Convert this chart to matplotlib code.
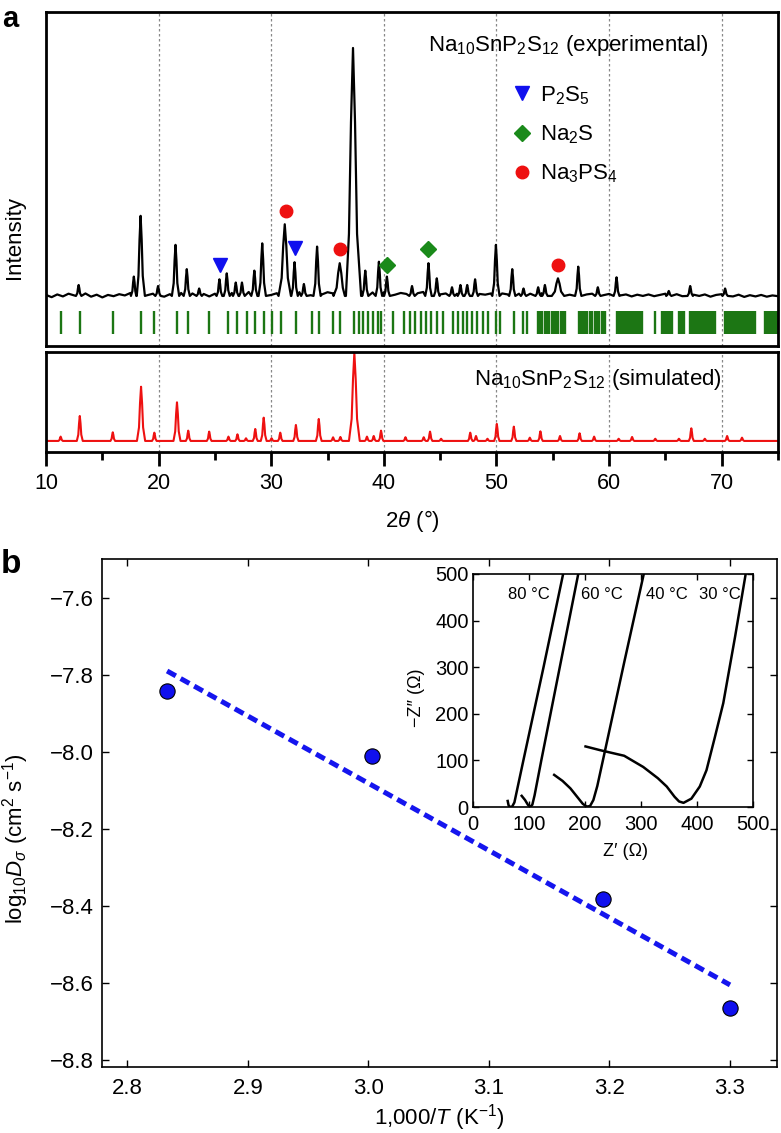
import numpy as np
import matplotlib.pyplot as plt
from matplotlib.lines import Line2D

plt.rcParams['font.family'] = ['Liberation Sans', 'DejaVu Sans']
plt.rcParams['mathtext.fontset'] = 'custom'
plt.rcParams['mathtext.rm'] = 'Liberation Sans'
plt.rcParams['mathtext.it'] = 'Liberation Sans:italic'
plt.rcParams['mathtext.bf'] = 'Liberation Sans:bold'

# ---- panel a: XRD ----
# experimental peaks (2theta, intensity; baseline = 0, strongest = 100)
exp_pos = [12.9, 17.8, 18.4, 19.95, 21.5, 22.5, 23.6, 25.4, 26.05, 26.85, 27.4, 28.5,
           29.2, 31.2, 32.07, 32.9, 34.07, 36.08, 37.26, 38.35, 39.56, 40.27, 42.5,
           43.96, 44.7, 46.05, 46.8, 47.4, 48.1, 49.95, 51.4, 52.4, 53.7, 54.3, 55.46,
           57.26, 59.0, 60.66, 65.3, 67.2, 70.3]
exp_int = [4.4, 7.8, 32.3, 4.0, 20.6, 10.8, 3.0, 6.7, 9.1, 5.4, 5.4, 10.2,
           21.2, 28.9, 13.6, 4.8, 19.9, 13.2, 100, 10.2, 13.8, 7.8, 4.0,
           13.2, 7.1, 3.5, 4.4, 4.4, 6.7, 20.6, 10.8, 3.0, 3.5, 4.4, 7.1,
           11.8, 3.5, 7.5, 2.0, 4.0, 3.0]
broad_peaks = [31.2, 36.08, 55.46]

# experimental background, every 0.5 deg from 10 to 75
bg_x = np.linspace(10, 75, 131)
bg_y = [0.4, -0.5, 0.6, -0.2, 0.9, 0.2, 0.5, 1.0, -0.3, 0.5, -0.6, 0.4, -0.1, 0.7, 0.2,
        1.2, 1.6, 1.1, 0.3, 0.9, 0.6, -0.3, 0.7, 0.4, 1.2, 0.5, 1.0, 0.2, 0.8, -0.2,
        0.9, 1.4, 1.8, 1.2, 1.5, 1.0, 1.6, 1.4, 1.9, 1.2, 0.4, 1.1, 2.0, 1.6, 1.2,
        1.5, 1.0, 0.3, 0.9, 0.6, 1.5, 1.0, 2.0, 1.3, 1.8, 2.2, 1.7, 2.3, 1.4, 1.8,
        1.5, 0.9, 0.5, 1.2, 0.8, 0.6, 1.1, 1.6, 2.0, 1.5, 0.6, 1.0, 1.3, 0.9, 1.6,
        1.1, 1.4, 0.8, 0.5, 1.0, 1.6, 1.0, 0.6, 1.2, 0.9, 0.4, 0.9, 0.3, 1.1, 0.7,
        1.5, 2.0, 1.2, 0.5, 1.1, 1.4, 0.6, 0.9, 1.0, 0.3, 0.8, 1.0, 0.2, 0.6, -0.2,
        0.5, 0.0, 0.6, -0.1, 0.4, 0.9, 0.2, 0.7, -0.1, 0.8, 0.5, 0.0, 0.6, -0.3, 0.4,
        0.7, 0.1, -0.2, 0.5, -0.4, 0.3, -0.2, 0.4, -0.3, 0.2, -0.1]

# impurity phase markers
p2s5_x, p2s5_y = [25.46, 32.1], [12.5, 19.5]
na2s_x, na2s_y = [40.3, 43.96], [12.5, 19.0]
na3ps4_x, na3ps4_y = [31.27, 36.1, 55.46], [34.3, 19.0, 12.5]

# Bragg reflection positions
bragg = [11.30, 13.01, 15.96, 18.44, 19.56, 21.63, 22.65, 24.51, 26.19, 26.99, 27.82,
         28.58, 29.33, 30.03, 30.83, 32.19, 33.58, 34.25, 35.49, 36.14, 37.32, 37.76,
         38.14, 38.58, 39.03, 39.47, 39.77, 40.80, 41.83, 42.34, 42.80, 43.31, 43.75,
         44.19, 44.69, 45.22, 46.11, 46.55, 46.99, 47.35, 47.82, 48.27, 48.76, 49.27,
         49.95, 50.30, 51.57, 52.36, 52.74, 53.72, 53.90, 54.07, 54.29, 54.51, 54.70,
         54.90, 55.08, 55.26, 55.48, 55.70, 55.89, 56.08, 57.32, 57.50, 57.67, 57.86,
         58.05, 58.28, 58.50, 58.72, 58.94, 59.13, 59.33, 59.50, 59.68,
         60.71, 60.85, 61.00, 61.15, 61.30, 61.45, 61.59, 61.74, 61.89, 62.04, 62.19,
         62.33, 62.48, 62.63, 62.78, 62.92, 64.11, 64.69, 64.84, 64.99, 65.14, 65.29,
         65.44, 65.58, 66.17, 66.32, 66.47, 66.62, 67.20, 67.35, 67.50, 67.64, 67.79,
         67.94, 68.08, 68.23, 68.38, 68.52, 68.67, 68.82, 68.97, 69.12, 69.26, 69.41,
         70.30, 70.45, 70.60, 70.74, 70.89, 71.04, 71.18, 71.33, 71.48, 71.62, 71.77,
         71.92, 72.06, 72.21, 72.36, 72.51, 72.66, 72.80, 72.95, 73.84, 73.99, 74.14,
         74.28, 74.43, 74.58, 74.73, 74.88]

# simulated peaks
sim_pos = [11.3, 13.0, 15.93, 18.44, 19.62, 21.63, 22.63, 24.49, 26.2, 27.0, 27.76,
           28.58, 29.33, 30.03, 30.8, 32.19, 34.22, 35.49, 36.14, 37.38, 38.5, 39.1,
           39.75, 41.92, 43.54, 44.1, 45.08, 47.67, 48.18, 49.2, 50.03, 51.54, 52.96,
           53.9, 55.64, 57.38, 58.67, 60.85, 62.04, 64.1, 66.2, 67.3, 68.5, 70.48, 71.8]
sim_int = [4.9, 28.3, 9.8, 61.5, 9.4, 43.8, 11.7, 10.6, 4.9, 7.5, 3.0,
           13.6, 26.4, 3.0, 9.4, 18.1, 24.9, 4.1, 4.5, 100, 4.9, 5.6,
           11.7, 4.2, 4.2, 10.6, 2.5, 9.4, 5.6, 2.5, 19.3, 16.2, 3.7,
           10.9, 5.6, 8.7, 4.9, 2.5, 4.5, 2.5, 2.5, 14.3, 2.5, 5.6, 3.7]

# ---- panel b ----
inv_T = [2.833, 3.003, 3.195, 3.300]
log_D = [-7.842, -8.010, -8.382, -8.665]
fit_x = [2.833, 3.300]
fit_y = [-7.79, -8.605]

# inset impedance spectra
z80_re = [62, 63.5, 66, 70, 74, 90, 126, 161]
z80_im = [13, 4, 0, 1, 10, 100, 300, 500]
z60_re = [87, 93, 98, 102, 106, 110, 122, 155, 188]
z60_im = [24, 15, 5, 0, 5, 25, 100, 300, 500]
z40_re = [145, 160, 174, 186, 196, 203, 209, 215, 222, 236, 270, 305]
z40_im = [69, 56, 40, 22, 7, 1, 2, 15, 45, 122, 310, 500]
z30_re = [201, 227, 270, 304, 330, 346, 360, 368, 376, 390, 405, 417, 432, 447, 468, 487]
z30_im = [130, 122, 110, 86, 62, 44, 22, 12, 9, 18, 44, 79, 150, 223, 365, 500]

peak_off = [-1, -0.5, -0.25, 0, 0.25, 0.5, 1]
peak_frac = [0, 0.25, 0.7, 1, 0.7, 0.25, 0]


def pattern(base_x, base_y, pos, hgt, widths):
    pts = [(x, y) for x, y in zip(base_x, base_y)
           if all(abs(x - p) > w for p, w in zip(pos, widths))]
    for p, h, w in zip(pos, hgt, widths):
        for o, f in zip(peak_off, peak_frac):
            pts.append((p + o * w, f * h))
    pts.sort()
    return np.array(pts).T


fig = plt.figure(figsize=(7.81, 11.33), dpi=100)

# experimental
ax1 = fig.add_axes([0.0589, 0.6946, 0.9373, 0.2948])
exp_w = [0.55 if p in broad_peaks else 0.22 + 0.005 * h for p, h in zip(exp_pos, exp_int)]
ex, ey = pattern(bg_x, bg_y, exp_pos, exp_int, exp_w)
ax1.plot(ex, ey, color='black', lw=1.6)
ax1.vlines(bragg, -15.3, -6.0, color='#1c7614', lw=1.7)
ax1.plot(p2s5_x, p2s5_y, 'v', color='#1010ee', ms=10, ls='none')
ax1.plot(na2s_x, na2s_y, 'D', color='#1a8a1a', ms=8, ls='none')
ax1.plot(na3ps4_x, na3ps4_y, 'o', color='#ee1010', ms=9, ls='none')
ax1.set_xlim(10, 75)
ax1.set_ylim(-20.2, 114.5)
ax1.set_xticks([])
ax1.set_yticks([])
for sp in ax1.spines.values():
    sp.set_linewidth(2)
for g in range(20, 75, 10):
    ax1.axvline(g, color='#888888', lw=0.9, ls=(0, (2, 2)), zorder=0)
ax1.set_ylabel('Intensity', fontsize=16)
ax1.yaxis.set_label_coords(-0.029, 0.326)
ax1.text(0.713, 0.901, 'Na$_{10}$SnP$_2$S$_{12}$ (experimental)', transform=ax1.transAxes,
         ha='center', va='center', fontsize=16)
handles = [Line2D([], [], marker='v', color='#1010ee', ms=10, ls='none'),
           Line2D([], [], marker='D', color='#1a8a1a', ms=8, ls='none'),
           Line2D([], [], marker='o', color='#ee1010', ms=9, ls='none')]
ax1.legend(handles, ['P$_2$S$_5$', 'Na$_2$S', 'Na$_3$PS$_4$'], loc='upper left',
           bbox_to_anchor=(0.635, 0.784), frameon=False, fontsize=16, handlelength=1.0,
           handletextpad=0.3, borderpad=0, borderaxespad=0, labelspacing=0.75, numpoints=1)
fig.text(10 / 781, 1 - 27 / 1133, 'a', fontsize=21, fontweight='bold',
         ha='center', va='baseline')

# simulated
ax2 = fig.add_axes([0.0589, 0.6011, 0.9373, 0.0883])
sim_w = [0.18 + 0.003 * h for h in sim_int]
sx, sy = pattern([10, 75], [0, 0], sim_pos, sim_int, sim_w)
ax2.plot(sx, sy, color='#ee1111', lw=1.5)
ax2.set_xlim(10, 75)
ax2.set_ylim(-12.5, 101)
ax2.set_yticks([])
ax2.set_xticks(range(10, 75, 10))
ax2.set_xticks(range(15, 80, 10), minor=True)
ax2.tick_params(axis='x', which='major', direction='out', length=10, width=2,
                labelsize=15.5, pad=5)
ax2.tick_params(axis='x', which='minor', direction='out', length=6, width=2)
for sp in ax2.spines.values():
    sp.set_linewidth(2)
for g in range(20, 75, 10):
    ax2.axvline(g, color='#888888', lw=0.9, ls=(0, (2, 2)), zorder=0)
ax2.text(0.754, 0.72, 'Na$_{10}$SnP$_2$S$_{12}$ (simulated)', transform=ax2.transAxes,
         ha='center', va='center', fontsize=16)
ax2.set_xlabel(r'2$\theta$ (°)', fontsize=16)
ax2.xaxis.set_label_coords(0.5, -0.56)

# panel b
ax3 = fig.add_axes([0.1306, 0.0583, 0.8643, 0.4484])
ax3.plot(fit_x, fit_y, color='#1515ee', lw=3.6, ls=(0, (2, 1.1)))
ax3.plot(inv_T, log_D, 'o', color='#1010ee', mec='black', mew=0.8, ms=11, ls='none')
ax3.set_xlim(2.779, 3.339)
ax3.set_ylim(-8.818, -7.499)
ax3.set_xticks([2.8, 2.9, 3.0, 3.1, 3.2, 3.3])
ax3.set_yticks([-8.8, -8.6, -8.4, -8.2, -8.0, -7.8, -7.6])
ax3.xaxis.set_major_formatter('{x:.1f}')
ax3.yaxis.set_major_formatter('{x:.1f}')
ax3.tick_params(direction='in', length=5, width=1, top=True, right=True,
                labelsize=16)
ax3.tick_params(axis='x', pad=8)
ax3.tick_params(axis='y', pad=6)
for sp in ax3.spines.values():
    sp.set_linewidth(1.2)
ax3.set_xlabel(r'1,000/$\it{T}$ (K$^{-1}$)', fontsize=16)
ax3.xaxis.set_label_coords(0.5, -0.07)
ax3.set_ylabel(r'log$_{10}$$\it{D}_{\sigma}$ (cm$^2$ s$^{-1}$)', fontsize=16)
ax3.yaxis.set_label_coords(-0.105, 0.45)
fig.text(11 / 781, 1 - 573 / 1133, 'b', fontsize=24, fontweight='bold',
         ha='center', va='baseline')

# inset
ax4 = fig.add_axes([0.6056, 0.2877, 0.3585, 0.2057])
for zr, zi in [(z80_re, z80_im), (z60_re, z60_im), (z40_re, z40_im), (z30_re, z30_im)]:
    ax4.plot(zr, zi, color='black', lw=1.8)
ax4.set_xlim(0, 500)
ax4.set_ylim(0, 500)
ax4.set_xticks(range(0, 501, 100))
ax4.set_yticks(range(0, 501, 100))
ax4.tick_params(direction='in', length=4, width=1, top=True, right=True, labelsize=14.5)
ax4.tick_params(axis='x', pad=6)
ax4.tick_params(axis='y', pad=3)
for sp in ax4.spines.values():
    sp.set_linewidth(1.2)
for lbl, xpos in [('80 °C', 100), ('60 °C', 230), ('40 °C', 346), ('30 °C', 441)]:
    ax4.text(xpos, 455, lbl, ha='center', va='center', fontsize=12)
ax4.set_xlabel('Z\u2032 (\u03a9)', fontsize=13)
ax4.xaxis.set_label_coords(0.543, -0.155)
ax4.set_ylabel('\u2212Z\u2033 (\u03a9)', fontsize=13)
ax4.yaxis.set_label_coords(-0.171, 0.47)

fig.savefig('out.png', dpi=100)
